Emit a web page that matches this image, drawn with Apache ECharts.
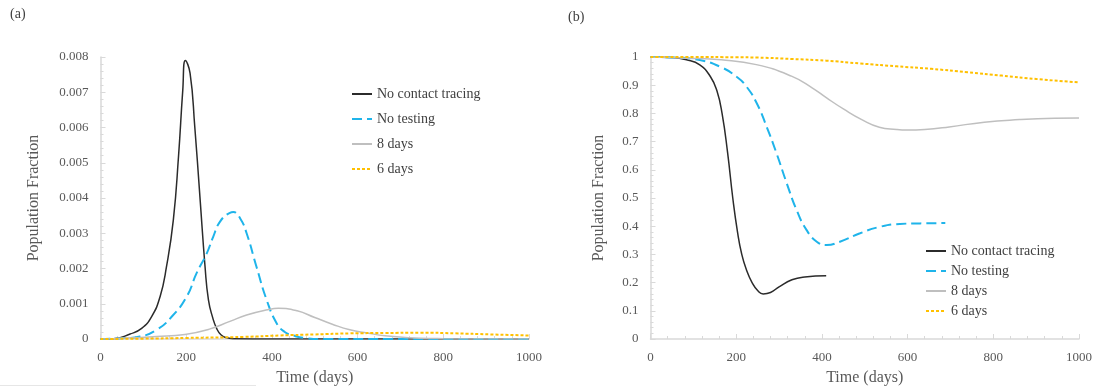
<!DOCTYPE html>
<html>
<head>
<meta charset="utf-8">
<style>
  html, body { margin: 0; padding: 0; background: #ffffff; }
  #chart { width: 1096px; height: 391px; }
</style>
<script src="https://cdn.jsdelivr.net/npm/echarts@6/dist/echarts.min.js"></script>
</head>
<body>
<div id="chart"></div>
<script>
// ---- Data: panel (a) Infected population fraction ----
var seriesNames = ['No contact tracing', 'No testing', '8 days', '6 days'];

var aNoTraceT = [0, 30, 69, 96, 119, 139, 154, 170, 182, 192, 198, 209, 220, 232, 244, 252, 262, 271, 281, 293, 310, 400, 600, 800, 1000];
var aNoTraceV = [0, 0.00001, 0.00014, 0.0003, 0.00063, 0.0012, 0.00205, 0.00338, 0.00517, 0.00706, 0.0079, 0.00754, 0.00602, 0.00404, 0.00205, 0.0011, 0.0006, 0.0003, 0.00012, 0.00004, 0.00001, 0, 0, 0, 0];

var aNoTestT = [0, 50, 92, 131, 166, 201, 224, 248, 263, 279, 302, 310, 326, 341, 364, 388, 411, 430, 450, 475, 520, 700, 1000];
var aNoTestV = [0, 0.00002, 0.00007, 0.00026, 0.00063, 0.0012, 0.00186, 0.00243, 0.0029, 0.00333, 0.00358, 0.0036, 0.00342, 0.003, 0.00205, 0.0011, 0.00045, 0.0002, 0.0001, 0.00003, 0, 0, 0];

var a8DaysT = [0, 30, 131, 197, 254, 302, 341, 390, 415, 459, 500, 541, 582, 623, 664, 705, 746, 800, 1000];
var a8DaysV = [0, 0.00001, 0.00007, 0.00013, 0.00028, 0.0005, 0.00068, 0.00083, 0.00087, 0.0008, 0.00061, 0.00042, 0.00026, 0.00017, 0.00009, 0.00005, 0.00002, 0.00001, 0];

var a6DaysT = [0, 100, 200, 336, 418, 500, 582, 664, 746, 828, 910, 1000];
var a6DaysV = [0, 0.00001, 0.00003, 0.00006, 0.0001, 0.00013, 0.00016, 0.00017, 0.00018, 0.00016, 0.00013, 0.0001];

// ---- Data: panel (b) Susceptible population fraction ----
var bNoTraceT = [0, 50, 84, 115, 140, 155, 167, 180, 192, 203, 213, 224, 237, 250, 263, 280, 300, 330, 360, 410];
var bNoTraceV = [1, 0.998, 0.99, 0.972, 0.93, 0.88, 0.8, 0.66, 0.5, 0.38, 0.3, 0.245, 0.2, 0.172, 0.16, 0.165, 0.185, 0.21, 0.22, 0.224];

var bNoTestT = [0, 60, 115, 162, 201, 224, 248, 271, 294, 318, 341, 364, 388, 411, 442, 489, 536, 582, 629, 688];
var bNoTestV = [1, 0.998, 0.989, 0.966, 0.93, 0.895, 0.836, 0.753, 0.659, 0.552, 0.457, 0.387, 0.345, 0.333, 0.345, 0.375, 0.398, 0.408, 0.41, 0.411];

var b8DaysT = [0, 83, 165, 247, 329, 378, 411, 452, 493, 534, 574, 599, 640, 697, 779, 861, 943, 1000];
var b8DaysV = [1, 0.996, 0.99, 0.973, 0.932, 0.89, 0.855, 0.814, 0.778, 0.751, 0.743, 0.741, 0.743, 0.752, 0.769, 0.778, 0.783, 0.784];

var b6DaysT = [0, 100, 200, 250, 330, 410, 490, 575, 655, 740, 820, 900, 1000];
var b6DaysV = [1, 1, 0.999, 0.998, 0.993, 0.987, 0.977, 0.967, 0.958, 0.946, 0.934, 0.922, 0.91];

// ---- Tick settings ----
var xMin = 0, xMax = 1000, xInterval = 200;
var aYMin = 0, aYMax = 0.008, aYInterval = 0.001;
var bYMin = 0, bYMax = 1, bYInterval = 0.1;

function pairs(t, v) { return t.map(function (x, i) { return [x, v[i]]; }); }

var FONT = '"Liberation Serif", "DejaVu Serif", serif';
var AXIS_COLOR = '#d9d9d9';
var LABEL_COLOR = '#595959';

var styles = [
  { color: '#2b2b2b', width: 1.5, type: 'solid' },
  { color: '#1fb4ea', width: 2, type: [10, 5] },
  { color: '#bfbfbf', width: 1.5, type: 'solid' },
  { color: '#ffc000', width: 2, type: [3, 2] }
];

function makeX(gi, nameGap) {
  return {
    type: 'value', gridIndex: gi, min: xMin, max: xMax, interval: xInterval,
    name: 'Time (days)', nameLocation: 'middle', nameGap: nameGap,
    nameTextStyle: { fontFamily: FONT, fontSize: 16, color: LABEL_COLOR },
    axisLine: { show: true, lineStyle: { color: AXIS_COLOR, width: 1.5 } },
    axisTick: { show: true, inside: true, length: 5, lineStyle: { color: AXIS_COLOR } },
    minorTick: { show: true, splitNumber: 5, length: 3, lineStyle: { color: AXIS_COLOR } },
    axisLabel: { fontFamily: FONT, fontSize: 13, color: LABEL_COLOR, margin: 12,
                 formatter: function (v) { return String(v); } },
    splitLine: { show: false }
  };
}
function makeY(gi, min, max, interval, nameGap) {
  return {
    type: 'value', gridIndex: gi, min: min, max: max, interval: interval,
    name: 'Population Fraction', nameLocation: 'middle', nameGap: nameGap,
    nameTextStyle: { fontFamily: FONT, fontSize: 16, color: LABEL_COLOR },
    axisLine: { show: true, lineStyle: { color: AXIS_COLOR, width: 1.5 } },
    axisTick: { show: true, inside: true, length: 5, lineStyle: { color: AXIS_COLOR } },
    minorTick: { show: true, splitNumber: 5, length: 3, lineStyle: { color: AXIS_COLOR } },
    axisLabel: { fontFamily: FONT, fontSize: 13, color: LABEL_COLOR, margin: 12 },
    splitLine: { show: false }
  };
}

function mkSeries(name, idx, data, gi) {
  var s = styles[idx];
  return {
    name: name, type: 'line', xAxisIndex: gi, yAxisIndex: gi,
    data: data, smooth: 0.5, symbol: 'none', showSymbol: false,
    lineStyle: { color: s.color, width: s.width, type: s.type },
    itemStyle: { color: s.color },
    emphasis: { disabled: true }, silent: true, animation: false
  };
}

var aData = [pairs(aNoTraceT, aNoTraceV), pairs(aNoTestT, aNoTestV), pairs(a8DaysT, a8DaysV), pairs(a6DaysT, a6DaysV)];
var bData = [pairs(bNoTraceT, bNoTraceV), pairs(bNoTestT, bNoTestV), pairs(b8DaysT, b8DaysV), pairs(b6DaysT, b6DaysV)];

var series = [];
seriesNames.forEach(function (n, i) { series.push(mkSeries(n, i, aData[i], 0)); });
seriesNames.forEach(function (n, i) { series.push(mkSeries(n, i, bData[i], 1)); });

var legendText = { fontFamily: FONT, fontSize: 14, color: '#404040' };
var legendItemStyle = { color: 'rgba(0,0,0,0)', borderWidth: 0, opacity: 0 };

var option = {
  animation: false,
  backgroundColor: '#ffffff',
  grid: [
    { left: 100.5, right: 567, top: 57, bottom: 52 },
    { left: 650.5, right: 17, top: 57, bottom: 52 }
  ],
  xAxis: [makeX(0, 31), makeX(1, 31)],
  yAxis: [makeY(0, aYMin, aYMax, aYInterval, 59), makeY(1, bYMin, bYMax, bYInterval, 44)],
  legend: [
    { orient: 'vertical', left: 346, top: 82, itemWidth: 20, itemHeight: 14, itemGap: 11,
      data: seriesNames, textStyle: legendText, selectedMode: false, itemStyle: legendItemStyle },
    { orient: 'vertical', left: 920, top: 239, itemWidth: 20, itemHeight: 14, itemGap: 6,
      data: seriesNames, textStyle: legendText, selectedMode: false, itemStyle: legendItemStyle }
  ],
  graphic: [
    { type: 'text', left: 10, top: 7, style: { text: '(a)', font: '14px ' + FONT, fill: '#404040' } },
    { type: 'text', left: 568, top: 10, style: { text: '(b)', font: '14px ' + FONT, fill: '#404040' } },
    { type: 'line', shape: { x1: 0, y1: 385.5, x2: 256, y2: 385.5 }, style: { stroke: '#e6e6e6', lineWidth: 1 } }
  ],
  series: series
};

var chart = echarts.init(document.getElementById('chart'), null, { renderer: 'canvas' });
chart.setOption(option);
</script>
</body>
</html>
